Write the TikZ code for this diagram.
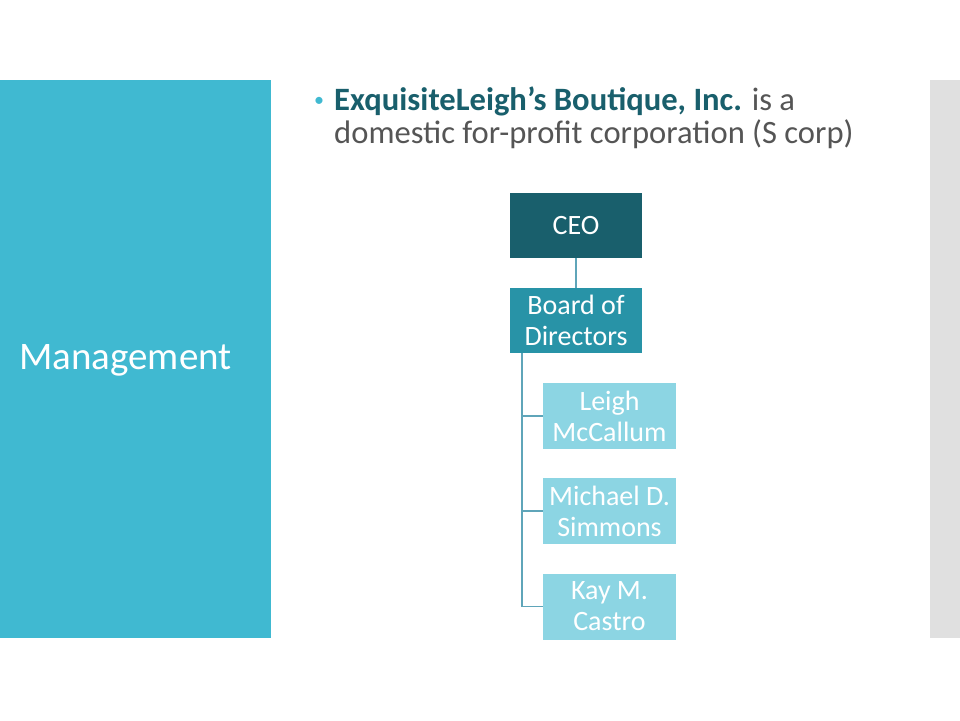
\documentclass[tikz,border=0pt]{standalone}
\usepackage{fontspec}
\setmainfont{Carlito}
\definecolor{sidebar}{RGB}{64,185,209}
\definecolor{greybar}{RGB}{224,224,224}
\definecolor{ceoC}{RGB}{25,95,108}
\definecolor{boardC}{RGB}{40,147,167}
\definecolor{childC}{RGB}{140,213,227}
\definecolor{lineC}{RGB}{95,165,185}
\definecolor{bodyT}{RGB}{85,85,85}
\tikzset{
  box/.style={rectangle, inner sep=0pt, align=center, text=white, font=\fontsize{28}{31}\selectfont},
  topbox/.style={box, fill=ceoC, minimum width=132pt, minimum height=65pt},
  midbox/.style={box, fill=boardC, minimum width=132pt, minimum height=65pt},
  leafbox/.style={box, fill=childC, minimum width=133pt, minimum height=66pt},
  link/.style={draw=lineC, line width=1.2pt}
}
\begin{document}
\begin{tikzpicture}[x=1pt,y=-1pt]
\useasboundingbox (0,0) rectangle (960,720);
\fill[white] (0,0) rectangle (960,720);
\fill[sidebar] (0,80) rectangle (271,638);
\fill[greybar] (930,80) rectangle (960,638);
\node[anchor=west, text=white, font=\fontsize{39}{42}\selectfont, inner sep=0pt] (title) at (19,360) {Management};
\node[anchor=base west, text=sidebar, font=\fontsize{20}{24}\selectfont, inner sep=0pt] (bullet) at (314,106) {•};
\node[anchor=base west, inner sep=0pt, text=bodyT, font=\fontsize{32.6}{33}\selectfont, align=left] (body) at (334,143)
  {\textcolor{ceoC}{\textbf{ExquisiteLeigh’s Boutique, Inc.}} is a\\domestic for-profit corporation (S corp)};
\node[topbox] (ceo) at (576,225.5) {CEO};
\node[midbox] (board) at (576,320.5) {Board of\\Directors};
\node[leafbox] (leigh) at (609.5,416) {Leigh\\McCallum};
\node[leafbox] (michael) at (609.5,511) {Michael D.\\Simmons};
\node[leafbox] (kay) at (609.5,606.5) {Kay M.\\Castro};
\coordinate (trunk) at (522,353);
\draw[link] (ceo.south) -- (board.north);
\draw[link] (trunk) |- (leigh.west);
\draw[link] (trunk) |- (michael.west);
\draw[link] (trunk) |- (kay.west);
\end{tikzpicture}
\end{document}
